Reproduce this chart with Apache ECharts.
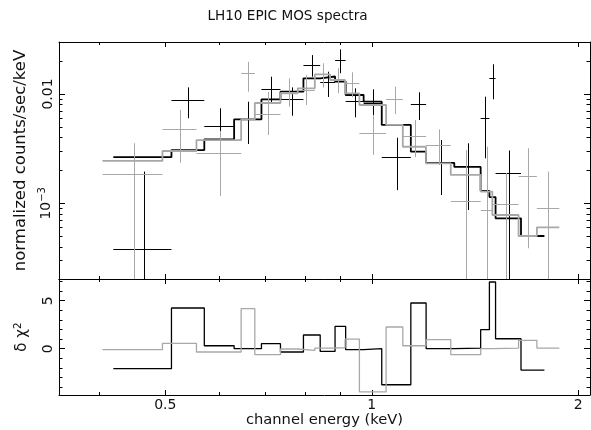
<!DOCTYPE html>
<html>
<head>
<meta charset="utf-8">
<script src="https://cdn.jsdelivr.net/npm/echarts@6/dist/echarts.min.js"></script>
<style>
html,body{margin:0;padding:0;background:#fff;}
#c{width:591px;height:430px;}
</style>
</head>
<body>
<div id="c"></div>
<script>
// ---------- data (energies in keV, rates in counts/s/keV) ----------
const titleText = 'LH10 EPIC MOS spectra';
const xTickValues = [0.5, 1, 2];
const xTickLabels = ['0.5', '1', '2'];
const xMinorTickValues = [0.4, 0.6, 0.7, 0.8, 0.9];
const yTickValues = [0.001, 0.01];
const yTickLabels = ['10{s|\u22123}', '0.01'];
const yMinorTickValues = [3e-4, 4e-4, 5e-4, 6e-4, 7e-4, 8e-4, 9e-4, 2e-3, 3e-3, 4e-3, 5e-3, 6e-3, 7e-3, 8e-3, 9e-3, 0.02];
const rTickValues = [0, 5];
const rTickLabels = ['0', '5'];
const rMinorTickValues = [-4, -3, -2, -1, 1, 2, 3, 4, 6, 7];

// black data group
const blackELo = [0.420, 0.5105, 0.570, 0.630, 0.6905, 0.736, 0.795, 0.841, 0.884, 0.916, 0.973, 1.034, 1.140, 1.200, 1.319, 1.441, 1.484, 1.515, 1.650];
const blackEHi = [0.5105, 0.570, 0.630, 0.6905, 0.736, 0.795, 0.841, 0.884, 0.916, 0.973, 1.034, 1.140, 1.200, 1.319, 1.441, 1.484, 1.515, 1.650, 1.785];
const blackRate = [3.8e-4, 8.76e-3, 5.10e-3, 5.85e-3, 1.118e-2, 8.91e-3, 1.84e-2, 1.30e-2, 2.05e-2, 8.63e-3, 8.27e-3, 2.67e-3, 8.05e-3, 2.37e-3, 2.19e-3, 6.0e-3, 1.39e-2, 1.91e-3, null];
const blackRateHi = [1.95e-3, 1.15e-2, 7.40e-3, 8.50e-3, 1.44e-2, 1.15e-2, 2.27e-2, 1.60e-2, 2.56e-2, 1.127e-2, 1.104e-2, 3.98e-3, 1.037e-2, 3.79e-3, 3.54e-3, 9.45e-3, 1.87e-2, 3.04e-3, null];
const blackRateLo = [0, 6.0e-3, 3.42e-3, 3.49e-3, 8.10e-3, 6.33e-3, 1.44e-2, 9.39e-3, 1.55e-2, 6.12e-3, 6.12e-3, 1.32e-3, 5.78e-3, 1.19e-3, 8.69e-4, 2.58e-3, 8.94e-3, 0, null];
const blackModel = [2.64e-3, 3.07e-3, 3.85e-3, 5.87e-3, 8.94e-3, 1.05e-2, 1.39e-2, 1.446e-2, 1.30e-2, 9.79e-3, 8.50e-3, 5.21e-3, 2.97e-3, 2.34e-3, 2.15e-3, 1.30e-3, 1.14e-3, 7.29e-4, 5.02e-4];
const blackDelChi2 = [-2.08, 4.24, 0.31, 0, 0.52, -0.34, 1.43, -0.28, 2.33, -0.1, 0, -3.75, 4.76, 0, 0.07, 1.98, 6.95, 1.04, -2.22];

// grey data group
const greyELo = [0.405, 0.4953, 0.5552, 0.645, 0.6753, 0.736, 0.780, 0.826, 0.8694, 0.9143, 0.9593, 1.0492, 1.1097, 1.1996, 1.3035, 1.4414, 1.4987, 1.6366, 1.7404];
const greyEHi = [0.4953, 0.5552, 0.645, 0.6753, 0.736, 0.780, 0.826, 0.8694, 0.9143, 0.9593, 1.0492, 1.1097, 1.1996, 1.3035, 1.4414, 1.4987, 1.6366, 1.7404, 1.8764];
const greyRate = [1.87e-3, 4.75e-3, 2.87e-3, 1.55e-2, 6.53e-3, 1.05e-2, 1.088e-2, 1.524e-2, 1.363e-2, 1.253e-2, 4.37e-3, 8.94e-3, 4.155e-3, 3.42e-3, 1.056e-3, 8.69e-4, 9.79e-4, 1.78e-3, 9.11e-4];
const greyRateHi = [3.54e-3, 7.14e-3, 4.59e-3, 1.97e-2, 1.043e-2, 1.39e-2, 1.492e-2, 1.909e-2, 1.719e-2, 1.579e-2, 6.43e-3, 1.166e-2, 5.78e-3, 4.75e-3, 3.07e-3, 3.29e-3, 1.89e-3, 3.19e-3, 1.95e-3];
const greyRateLo = [0, 2.35e-3, 1.17e-3, 1.05e-2, 4.22e-3, 7.65e-3, 7.93e-3, 1.147e-2, 1.015e-2, 9.33e-3, 2.77e-3, 6.56e-3, 2.64e-3, 2.24e-3, 0, 0, 0, 3.88e-4, 0];
const greyModel = [2.44e-3, 3.01e-3, 3.79e-3, 5.85e-3, 8.27e-3, 1.015e-2, 1.127e-2, 1.51e-2, 1.34e-2, 1.015e-2, 7.93e-3, 5.21e-3, 3.29e-3, 2.32e-3, 1.82e-3, 1.28e-3, 7.82e-4, 5.02e-4, 6.03e-4];
const greyDelChi2 = [-0.1, 0.56, -0.34, 4.17, -0.62, -0.03, -0.17, 0.07, 0.1, 1.0, -4.5, 2.26, 0.31, 0.94, -0.62, 0, 0.07, 0.87, 0.07];

// ---------- ranges / style ----------
const X_MIN = 0.35, X_MAX = 2.08;
const Y_MIN = 2.03e-4, Y_MAX = 0.0299;
const R_MIN = -4.82, R_MAX = 7.26;
const BLACK = '#000000', GREY = '#a8a8a8';
const FONT = 'DejaVu Sans';
const lg = Math.log10;

function fmtFrom(values, labels, tf) {
  return function (v) {
    let best = 0, bd = Infinity;
    values.forEach((t, i) => { const d = Math.abs(tf(t) - v); if (d < bd) { bd = d; best = i; } });
    return labels[best];
  };
}

function xAxisDef(grid, pos, major, withLabel) {
  const vals = (major ? xTickValues : xMinorTickValues).map(lg);
  const ax = {
    type: 'value', gridIndex: grid, position: pos, min: lg(X_MIN), max: lg(X_MAX),
    axisLine: { show: major, onZero: false, lineStyle: { color: '#000', width: 1 } },
    axisTick: { show: true, inside: true, length: major ? 5 : 3, customValues: vals, lineStyle: { color: '#000', width: 1 } },
    axisLabel: { show: false },
    splitLine: { show: false }
  };
  if (withLabel) {
    ax.axisLabel = { show: true, customValues: vals, formatter: fmtFrom(xTickValues, xTickLabels, lg),
      margin: 3, fontSize: 14, fontFamily: FONT, color: '#111' };
    ax.name = 'channel energy (keV)';
    ax.nameLocation = 'middle';
    ax.nameGap = 18;
    ax.nameTextStyle = { fontSize: 14.7, fontFamily: FONT, color: '#111' };
  }
  return ax;
}

function yAxisDef(grid, pos, major, withLabel, kind) {
  const isLog = kind === 'log';
  const majorVals = isLog ? yTickValues.map(lg) : rTickValues.slice();
  const minorVals = isLog ? yMinorTickValues.map(lg) : rMinorTickValues.slice();
  const vals = major ? majorVals : minorVals;
  const ax = {
    type: 'value', gridIndex: grid, position: pos,
    min: isLog ? lg(Y_MIN) : R_MIN, max: isLog ? lg(Y_MAX) : R_MAX,
    axisLine: { show: major, onZero: false, lineStyle: { color: '#000', width: 1 } },
    axisTick: { show: true, inside: true, length: major ? 6 : 3.5, customValues: vals, lineStyle: { color: '#000', width: 1 } },
    axisLabel: { show: false },
    splitLine: { show: false }
  };
  if (withLabel) {
    ax.axisLabel = { show: true, customValues: vals, rotate: 90, margin: 4,
      formatter: isLog ? fmtFrom(yTickValues, yTickLabels, lg) : fmtFrom(rTickValues, rTickLabels, v => v),
      fontSize: 14, fontFamily: FONT, color: '#111',
      rich: { s: { fontSize: 10, fontFamily: FONT, color: '#111', verticalAlign: 'top', padding: [0, 0, 8, 0] } } };
    ax.name = isLog ? 'normalized counts/sec/keV' : '\u03b4 \u03c7{s|2}';
    ax.nameLocation = 'middle';
    ax.nameGap = isLog ? 26 : 27;
    ax.nameTextStyle = { fontSize: isLog ? 16.5 : 15, fontFamily: FONT, color: '#111',
      rich: { s: { fontSize: 10.5, fontFamily: FONT, color: '#111', verticalAlign: 'top', padding: [0, 0, 8, 0] } } };
  }
  return ax;
}

function stepData(lo, hi, v, tf) {
  const pts = [];
  for (let i = 0; i < v.length; i++) {
    pts.push([lg(lo[i]), tf(v[i])]);
    pts.push([lg(hi[i]), tf(v[i])]);
  }
  return pts;
}

function stepSeries(lo, hi, v, tf, color, width, xi, yi, z) {
  return { type: 'line', xAxisIndex: xi, yAxisIndex: yi, data: stepData(lo, hi, v, tf),
    showSymbol: false, symbol: 'none', clip: true, z: z, silent: true,
    lineStyle: { color: color, width: width } };
}

function crossSeries(lo, hi, y, yLo, yHi, color, z) {
  const data = [];
  for (let i = 0; i < y.length; i++) {
    if (y[i] == null) continue;
    const c = (lo[i] + hi[i]) / 2;
    data.push([lg(lo[i]), lg(hi[i]), lg(c), lg(y[i]),
      lg(Math.max(yLo[i], Y_MIN)), lg(Math.min(yHi[i], Y_MAX))]);
  }
  return {
    type: 'custom', xAxisIndex: 0, yAxisIndex: 0, data: data, clip: true, z: z, silent: true,
    encode: { x: [0, 1, 2], y: [3, 4, 5] },
    renderItem: function (params, api) {
      const a = api.coord([api.value(0), api.value(3)]);
      const b = api.coord([api.value(1), api.value(3)]);
      const t = api.coord([api.value(2), api.value(5)]);
      const bt = api.coord([api.value(2), api.value(4)]);
      const hy = Math.round(a[1]) + 0.5;
      const vx = Math.round(t[0]) + 0.5;
      return { type: 'group', children: [
        { type: 'line', shape: { x1: a[0], y1: hy, x2: b[0], y2: hy }, style: { stroke: color, lineWidth: 1 } },
        { type: 'line', shape: { x1: vx, y1: t[1], x2: vx, y2: bt[1] }, style: { stroke: color, lineWidth: 1 } }
      ] };
    }
  };
}

const chart = echarts.init(document.getElementById('c'), null, { renderer: 'canvas' });
chart.setOption({
  animation: false,
  backgroundColor: '#ffffff',
  graphic: [{ type: 'text', x: 287.5, y: 16,
    style: { text: titleText, fontSize: 13.6, fontFamily: FONT, fill: '#111', align: 'center', verticalAlign: 'middle', textAlign: 'center', textVerticalAlign: 'middle' } }],
  grid: [
    { left: 59, right: 1, top: 42, height: 237 },
    { left: 59, right: 1, top: 279, height: 116 }
  ],
  xAxis: [
    xAxisDef(0, 'bottom', true, false), xAxisDef(0, 'bottom', false, false),
    xAxisDef(0, 'top', true, false), xAxisDef(0, 'top', false, false),
    xAxisDef(1, 'bottom', true, true), xAxisDef(1, 'bottom', false, false),
    xAxisDef(1, 'top', true, false), xAxisDef(1, 'top', false, false)
  ],
  yAxis: [
    yAxisDef(0, 'left', true, true, 'log'), yAxisDef(0, 'left', false, false, 'log'),
    yAxisDef(0, 'right', true, false, 'log'), yAxisDef(0, 'right', false, false, 'log'),
    yAxisDef(1, 'left', true, true, 'lin'), yAxisDef(1, 'left', false, false, 'lin'),
    yAxisDef(1, 'right', true, false, 'lin'), yAxisDef(1, 'right', false, false, 'lin')
  ],
  series: [
    stepSeries(blackELo, blackEHi, blackModel, lg, BLACK, 1.8, 0, 0, 2),
    crossSeries(blackELo, blackEHi, blackRate, blackRateLo, blackRateHi, BLACK, 3),
    stepSeries(greyELo, greyEHi, greyModel, lg, GREY, 1.8, 0, 0, 4),
    crossSeries(greyELo, greyEHi, greyRate, greyRateLo, greyRateHi, GREY, 5),
    stepSeries(blackELo, blackEHi, blackDelChi2, v => v, BLACK, 1.3, 4, 4, 2),
    stepSeries(greyELo, greyEHi, greyDelChi2, v => v, GREY, 1.3, 4, 4, 3)
  ]
});
</script>
</body>
</html>
